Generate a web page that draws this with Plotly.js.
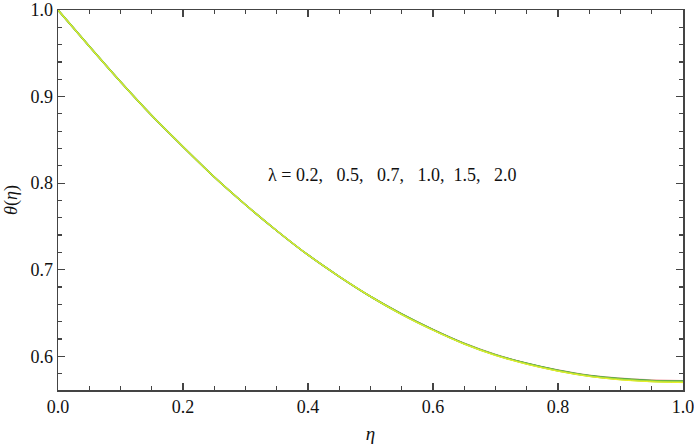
<!DOCTYPE html>
<html>
<head>
<meta charset="utf-8">
<script src="https://cdn.plot.ly/plotly-3.0.1.min.js"></script>
<style>html,body{margin:0;padding:0;background:#fff;}</style>
</head>
<body>
<div id="chart" style="width:694px;height:447px;"></div>
<script>
const eta = [0, 0.05, 0.1, 0.15, 0.2, 0.25, 0.3, 0.35, 0.4, 0.45, 0.5, 0.55, 0.6, 0.65, 0.7, 0.75, 0.8, 0.85, 0.9, 0.95, 1.0];
const lambdaLabels = ["0.2", "0.5", "0.7", "1.0", "1.5", "2.0"];
const theta_l02 = [1.0, 0.958, 0.917, 0.878, 0.842, 0.807, 0.775, 0.745, 0.717, 0.692, 0.669, 0.649, 0.631, 0.615, 0.602, 0.592, 0.584, 0.578, 0.5745, 0.5725, 0.5718];
const theta_l05 = [1.0, 0.958, 0.917, 0.878, 0.842, 0.807, 0.775, 0.745, 0.717, 0.692, 0.669, 0.6488, 0.6308, 0.6148, 0.6018, 0.5918, 0.5838, 0.5778, 0.5742, 0.5721, 0.5714];
const theta_l07 = [1.0, 0.958, 0.917, 0.878, 0.842, 0.807, 0.775, 0.745, 0.717, 0.692, 0.669, 0.6486, 0.6306, 0.6146, 0.6016, 0.5916, 0.5836, 0.5775, 0.5738, 0.5717, 0.5709];
const theta_l10 = [1.0, 0.958, 0.917, 0.878, 0.842, 0.807, 0.775, 0.745, 0.717, 0.692, 0.669, 0.6484, 0.6304, 0.6144, 0.6014, 0.5913, 0.5833, 0.5772, 0.5734, 0.5713, 0.5705];
const theta_l15 = [1.0, 0.958, 0.917, 0.878, 0.842, 0.807, 0.775, 0.745, 0.717, 0.692, 0.669, 0.6482, 0.6302, 0.6142, 0.6011, 0.5910, 0.5830, 0.5769, 0.5730, 0.5709, 0.5700];
const theta_l20 = [1.0, 0.958, 0.917, 0.878, 0.842, 0.807, 0.775, 0.745, 0.717, 0.692, 0.669, 0.648, 0.630, 0.614, 0.6008, 0.5907, 0.5827, 0.5766, 0.5726, 0.5705, 0.5695];
const seriesValues = [theta_l02, theta_l05, theta_l07, theta_l10, theta_l15, theta_l20];
const xTickVals = [0, 0.2, 0.4, 0.6, 0.8, 1.0];
const xTickText = ["0.0", "0.2", "0.4", "0.6", "0.8", "1.0"];
const yTickVals = [0.6, 0.7, 0.8, 0.9, 1.0];
const yTickText = ["0.6", "0.7", "0.8", "0.9", "1.0"];
const colors = ["#f2a0a8", "#58b848", "#3f8f45", "#a8dc3c", "#9fd840", "#eef028"];

const traces = seriesValues.map((ys, i) => ({
  x: eta, y: ys, type: "scatter", mode: "lines",
  line: {color: colors[i], width: i === 5 ? 1.0 : 1.5, shape: "spline", smoothing: 0.6},
  name: "λ = " + lambdaLabels[i], showlegend: false, hoverinfo: "skip"
}));

const serif = "'Liberation Serif', 'Times New Roman', serif";
const axisCommon = {
  showgrid: false, zeroline: false, showline: true, linecolor: "#444", linewidth: 1.5,
  mirror: "ticks", ticks: "inside", ticklen: 7, tickwidth: 1.2, tickcolor: "#444",
  ticklabeloverflow: "allow",
  tickfont: {family: serif, size: 18, color: "#111"}
};

const nb = "\u00A0";
const annText = "λ = 0.2," + nb+nb+nb + "0.5," + nb+nb+nb + "0.7," + nb+nb+nb + "1.0," + nb+nb + "1.5," + nb+nb+nb + "2.0";

const layout = {
  width: 694, height: 447,
  margin: {l: 58, r: 11, t: 10, b: 57},
  paper_bgcolor: "#fff", plot_bgcolor: "#fff",
  font: {family: serif, size: 18, color: "#111"},
  xaxis: Object.assign({}, axisCommon, {
    range: [0, 1], tickmode: "array", tickvals: xTickVals, ticktext: xTickText,
    minor: {tickmode: "linear", dtick: 0.05, tick0: 0, ticks: "inside", ticklen: 4, tickwidth: 1.2, tickcolor: "#444"},
    title: {text: "<i>η</i>", font: {family: serif, size: 19, color: "#111"}, standoff: 10}
  }),
  yaxis: Object.assign({}, axisCommon, {
    range: [0.561, 1.0], tickmode: "array", tickvals: yTickVals, ticktext: yTickText,
    minor: {tickmode: "linear", dtick: 0.02, tick0: 0, ticks: "inside", ticklen: 4, tickwidth: 1.2, tickcolor: "#444"},
    title: {text: "<i>θ</i>(<i>η</i>)", font: {family: serif, size: 18, color: "#111"}, standoff: 8}
  }),
  annotations: [{
    x: 0.333, y: 0.809, xref: "x", yref: "y", xanchor: "left", yanchor: "middle",
    text: annText, showarrow: false, font: {family: serif, size: 18, color: "#111"}
  }]
};

Plotly.newPlot("chart", traces, layout, {staticPlot: true, displayModeBar: false});
</script>
</body>
</html>
